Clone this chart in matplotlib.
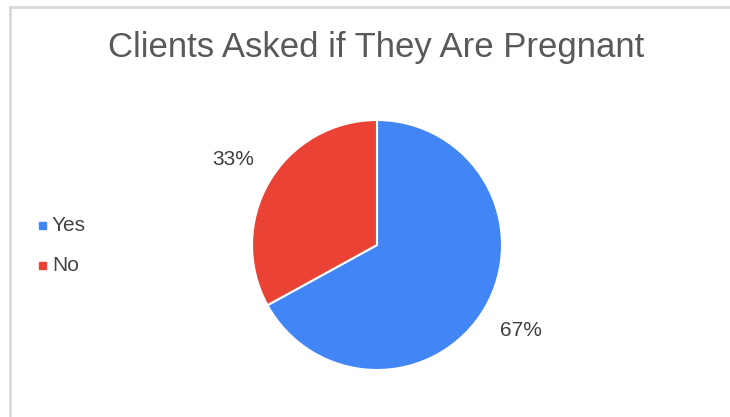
import matplotlib
matplotlib.use("Agg")
import matplotlib.pyplot as plt
from matplotlib.lines import Line2D
from matplotlib.patches import Rectangle

plt.rcParams['font.family'] = ['Liberation Sans', 'DejaVu Sans']

categories = ["Yes", "No"]
values = [67, 33]
colors = ["#4285F4", "#EA4335"]
title = "Clients Asked if They Are Pregnant"

W, H = 730, 417
fig = plt.figure(figsize=(W / 100, H / 100), dpi=100)
fig.patch.set_facecolor("white")

# border lines (top and left)
fig.add_artist(Line2D([10 / W, 1], [1 - 7 / H, 1 - 7 / H], color="#d9d9d9", lw=2, transform=fig.transFigure))
fig.add_artist(Line2D([10 / W, 10 / W], [0, 1 - 7 / H], color="#d9d9d9", lw=2, transform=fig.transFigure))

cx, cy, r = 377, 245, 125
ax = fig.add_axes([(cx - r) / W, (H - cy - r) / H, 2 * r / W, 2 * r / H])
wedges, texts, autotexts = ax.pie(
    values, colors=colors, startangle=90, counterclock=False,
    autopct=lambda p: f"{p:.0f}%", pctdistance=1.34,
    wedgeprops=dict(edgecolor="white", linewidth=1.5),
    textprops=dict(fontsize=15, color="#3f3f3f"),
)
ax.set_xlim(-1, 1)
ax.set_ylim(-1, 1)
ax.set_aspect("equal")

fig.text(376.5 / W, 1 - 57 / H, title, ha="center", va="baseline", fontsize=25, color="#595959")

# legend
for i, (cat, col) in enumerate(zip(categories, colors)):
    y = 225.5 + i * 40
    fig.add_artist(Rectangle((39 / W, 1 - (y + 3.5) / H), 7 / W, 7 / H, color=col, transform=fig.transFigure))
    fig.text(52 / W, 1 - y / H, cat, ha="left", va="center", fontsize=15, color="#444444")

fig.savefig("out.png", dpi=100)
